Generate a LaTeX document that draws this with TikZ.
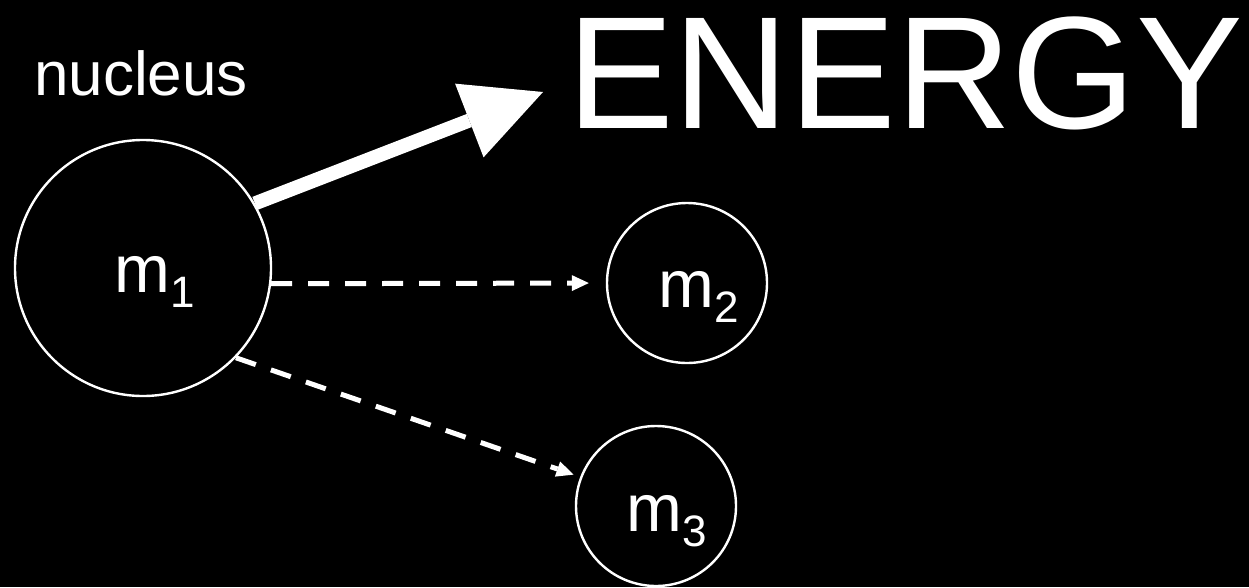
\documentclass[tikz,border=0pt]{standalone}
\usepackage{fontspec}
\setmainfont{Liberation Sans}
\usepackage{tikz}
\usetikzlibrary{arrows.meta}

\newcommand{\msub}[1]{{\fontsize{44}{44}\selectfont\lower15pt\hbox{#1}}}

\tikzset{
  mass/.style={circle, draw=white, line width=2.4pt, inner sep=0pt},
  masslabel/.style={text=white, inner sep=0pt, anchor=base west, font=\fontsize{67}{67}\selectfont},
  decay/.style={white, line width=5pt, dash pattern=on 21pt off 16pt, -{Triangle[length=17pt,width=16pt,line width=0pt]}},
}

\begin{document}
\begin{tikzpicture}[x=1pt, y=-1pt]
    % Background
    \fill[black] (0,0) rectangle (1249,587);
    \useasboundingbox (0,0) rectangle (1249,587);

    % Nucleus and fragments
    \node[mass, minimum size=256pt] (m1) at (143,268) {};
    \node[mass, minimum size=160pt] (m2) at (687,283) {};
    \node[mass, minimum size=160pt] (m3) at (656,506) {};

    \node[masslabel] (l1) at ([xshift=-29pt,yshift=-24pt]m1.center) {m\msub{1}};
    \node[masslabel] (l2) at ([xshift=-29pt,yshift=-24pt]m2.center) {m\msub{2}};
    \node[masslabel] (l3) at ([xshift=-30pt,yshift=-25pt]m3.center) {m\msub{3}};

    % Titles
    \node[text=white, anchor=base west, inner sep=0pt, font=\fontsize{62}{62}\selectfont] (nuc) at (34,95) {nucleus};
    \node[text=white, anchor=base west, inner sep=0pt, font=\fontsize{160}{160}\selectfont] (energy) at (567,128) {ENERGY};

    % Released energy
    \coordinate (etip) at (543,92);
    \draw[white, line width=14pt, -{Triangle[length=79pt,width=79pt,line width=0pt]}] (m1.30) -- (etip);

    % Fragments
    \draw[decay, shorten >=17pt] (m1.-7) -- (m2.west);
    \draw[decay, shorten >=7pt] (m1.-44) -- (m3.159);
\end{tikzpicture}
\end{document}
